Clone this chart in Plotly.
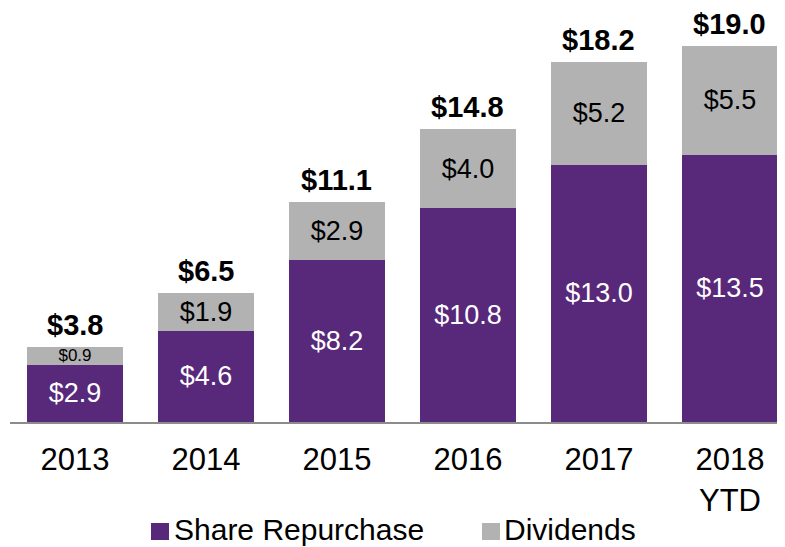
import plotly.graph_objects as go

categories = ["2013", "2014", "2015", "2016", "2017", "2018<br>YTD"]
repurchase = [2.9, 4.6, 8.2, 10.8, 13.0, 13.5]
dividends = [0.9, 1.9, 2.9, 4.0, 5.2, 5.5]
totals = [3.8, 6.5, 11.1, 14.8, 18.2, 19.0]

PURPLE = "#58287A"
GRAY = "#B2B2B2"
FONT = "Liberation Sans, Arial, sans-serif"

# page body has an 8px default margin; work in page pixels and offset
OFF = 8
W, H = 785 - OFF, 547 - OFF
ML, MR, MT = 10 - OFF, 0, 10 - OFF
PW = W - ML - MR
BASE = 422 - OFF
PH = BASE - MT
MB = H - BASE

fig = go.Figure()
fig.add_trace(go.Bar(
    x=categories, y=repurchase, name="Share Repurchase",
    marker=dict(color=PURPLE, line=dict(width=0)),
    text=[f"${v:.1f}" for v in repurchase], textposition="inside",
    insidetextanchor="middle", textangle=0, constraintext="none",
    textfont=dict(family=FONT, size=27, color="white"),
    hoverinfo="skip",
))
fig.add_trace(go.Bar(
    x=categories, y=dividends, name="Dividends",
    marker=dict(color=GRAY, line=dict(width=0)),
    text=[f"${v:.1f}" for v in dividends], textposition="inside",
    insidetextanchor="middle", textangle=0, constraintext="none",
    textfont=dict(family=FONT, size=[17, 27, 27, 27, 27, 27], color="black"),
    hoverinfo="skip",
))

for i, t in enumerate(totals):
    fig.add_annotation(x=i, y=t, text=f"<b>${t:.1f}</b>", showarrow=False,
                       yanchor="bottom", xanchor="center", yshift=4,
                       font=dict(family=FONT, size=29, color="black"))

def px2paper(x, y):
    # page pixel coords -> paper coords
    return (x - OFF - ML) / PW, (BASE - (y - OFF)) / PH

# manual legend
for (x0, label, color, tx) in [(151, "Share Repurchase", PURPLE, 175),
                               (482, "Dividends", GRAY, 505)]:
    a = px2paper(x0, 523)
    b = px2paper(x0 + 18, 540)
    fig.add_shape(type="rect", xref="paper", yref="paper",
                  x0=a[0], y0=a[1], x1=b[0], y1=b[1],
                  fillcolor=color, line=dict(width=0))
    p = px2paper(tx - 2, 529)
    fig.add_annotation(xref="paper", yref="paper", x=p[0], y=p[1],
                       text=label, showarrow=False, xanchor="left",
                       yanchor="middle", borderpad=0,
                       font=dict(family=FONT, size=30, color="black"))

fig.update_layout(
    width=W, height=H,
    margin=dict(l=ML, r=MR, t=MT, b=MB, pad=0),
    barmode="stack", bargap=0.267,
    plot_bgcolor="white", paper_bgcolor="white",
    showlegend=False,
    font=dict(family=FONT, color="black"),
    xaxis=dict(type="category", range=[-0.496, 5.42], showline=True,
               linecolor="#8C8C8C", linewidth=2, ticks="outside", ticklen=9,
               tickcolor="rgba(0,0,0,0)", showgrid=False, zeroline=False,
               tickfont=dict(family=FONT, size=31, color="black"),
               fixedrange=True),
    yaxis=dict(range=[0, PH / 19.8], visible=False, showgrid=False,
               zeroline=False, fixedrange=True),
)

fig.write_html("out.html")
